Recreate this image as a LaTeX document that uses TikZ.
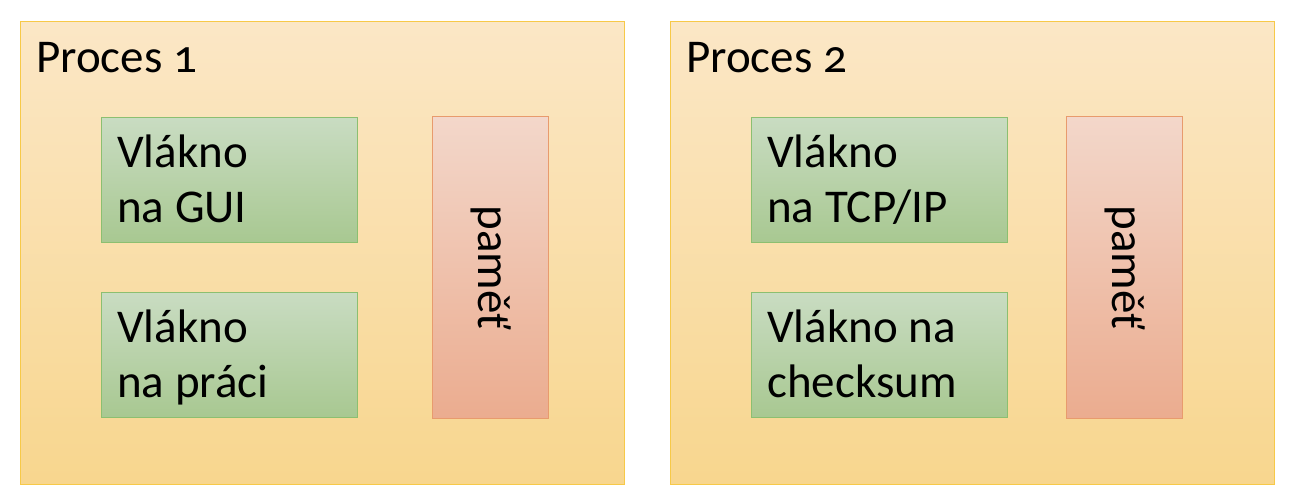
\documentclass[tikz,border=0pt]{standalone}
\usepackage{fontspec}
\setmainfont{Carlito}
\usetikzlibrary{calc}
\definecolor{ptop}{HTML}{FBE7C6}
\definecolor{pbot}{HTML}{F8D68E}
\definecolor{pdraw}{HTML}{F7C948}
\definecolor{gtop}{HTML}{C9DCC2}
\definecolor{gbot}{HTML}{A8C891}
\definecolor{gdraw}{HTML}{8CBF70}
\definecolor{rtop}{HTML}{F3D7CA}
\definecolor{rbot}{HTML}{EBAC8F}
\definecolor{rdraw}{HTML}{E89B6D}
\tikzset{
  procbox/.style={draw=pdraw, line width=1.2pt, top color=ptop, bottom color=pbot, rectangle, inner sep=0pt, minimum width=604pt, minimum height=463pt, anchor=north west},
  threadbox/.style={draw=gdraw, line width=1.2pt, top color=gtop, bottom color=gbot, rectangle, inner sep=0pt, minimum width=256pt, minimum height=125pt, anchor=north west},
  membox/.style={draw=rdraw, line width=1.2pt, top color=rtop, bottom color=rbot, rectangle, inner sep=0pt, minimum width=116pt, minimum height=302pt, anchor=north west},
  bigfont/.style={font=\fontsize{47}{55}\selectfont},
  txt/.style={bigfont, inner sep=0pt, align=left, anchor=base west},
  titletxt/.style={txt, font=\fontsize{47}{55}\selectfont\addfontfeatures{Numbers=OldStyle}},
  memtxt/.style={bigfont, inner sep=0pt, rotate=-90},
}
\begin{document}
\begin{tikzpicture}[x=1pt,y=-1pt]
\useasboundingbox (0,0) rectangle (1290,498);
% Process 1
\node[procbox] (p1) at (20,21) {};
\node[titletxt] (p1t) at (36,72) {Proces 1};
\node[threadbox] (g1) at (101,117) {};
\node[txt] (g1t) at (117,222) {Vlákno\\na GUI};
\node[threadbox] (g2) at (101,292) {};
\node[txt] (g2t) at (117,397) {Vlákno\\na práci};
\node[membox] (m1) at (432,116) {};
\node[memtxt] (m1t) at (m1.center) {paměť};
% Process 2
\node[procbox] (p2) at (670,21) {};
\node[titletxt] (p2t) at (686,72) {Proces 2};
\node[threadbox] (g3) at (751,117) {};
\node[txt] (g3t) at (767,222) {Vlákno\\na TCP/IP};
\node[threadbox] (g4) at (751,292) {};
\node[txt] (g4t) at (767,397) {Vlákno na\\checksum};
\node[membox] (m2) at (1066,116) {};
\node[memtxt] (m2t) at (m2.center) {paměť};
\end{tikzpicture}
\end{document}
